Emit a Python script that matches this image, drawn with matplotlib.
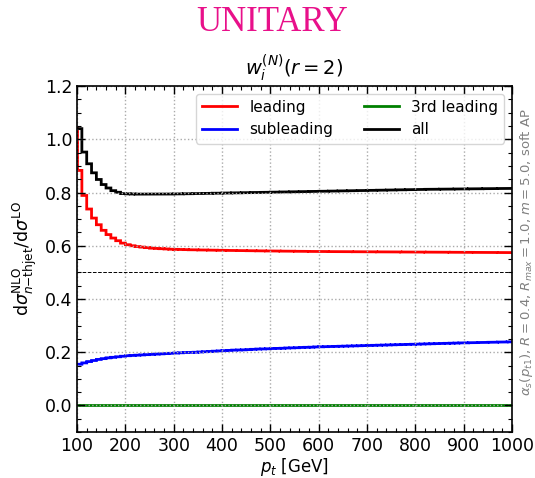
import numpy as np
import matplotlib
matplotlib.use("Agg")
import matplotlib.pyplot as plt
from matplotlib.ticker import MultipleLocator

# bin edges (GeV): a narrow first bin, then 10 GeV bins
edges = [100, 101] + list(range(110, 1001, 10))

leading = [1.040, 0.883, 0.789, 0.738, 0.704, 0.679, 0.658, 0.642, 0.629, 0.619, 0.610,
           0.604, 0.600, 0.597, 0.595, 0.593, 0.591, 0.590, 0.589, 0.588, 0.587,
           0.5865, 0.586, 0.5855, 0.585, 0.5847, 0.5843, 0.584, 0.5837, 0.5833, 0.583,
           0.5828, 0.5825, 0.5822, 0.582, 0.5817, 0.5815, 0.5812, 0.581, 0.5807, 0.5805,
           0.5803, 0.5801, 0.5799, 0.5797, 0.5795, 0.5793, 0.5791, 0.5789, 0.5787, 0.5786,
           0.5784, 0.5783, 0.5781, 0.578, 0.5779, 0.5778, 0.5777, 0.5776, 0.5775, 0.5774,
           0.5773, 0.5772, 0.5771, 0.577, 0.5769, 0.5768, 0.5767, 0.5766, 0.5765, 0.5764,
           0.5763, 0.5762, 0.5761, 0.576, 0.5759, 0.5758, 0.5757, 0.5756, 0.5755, 0.5754,
           0.5753, 0.5752, 0.5751, 0.575, 0.5749, 0.5748, 0.5747, 0.5746, 0.5745, 0.5744]

subleading = [0.155, 0.155, 0.160, 0.165, 0.169, 0.173, 0.176, 0.179, 0.181, 0.183, 0.185,
              0.187, 0.188, 0.189, 0.190, 0.191, 0.192, 0.193, 0.194, 0.195, 0.196,
              0.197, 0.198, 0.199, 0.1995, 0.200, 0.201, 0.202, 0.203, 0.204, 0.205,
              0.206, 0.207, 0.208, 0.2085, 0.209, 0.210, 0.211, 0.212, 0.2125, 0.213,
              0.214, 0.2145, 0.215, 0.216, 0.2165, 0.217, 0.218, 0.2185, 0.219, 0.220,
              0.2205, 0.221, 0.2215, 0.222, 0.2225, 0.223, 0.2235, 0.224, 0.2245, 0.225,
              0.2255, 0.226, 0.2265, 0.227, 0.2275, 0.228, 0.2285, 0.229, 0.2295, 0.230,
              0.2305, 0.231, 0.2315, 0.232, 0.2325, 0.233, 0.2335, 0.234, 0.2345, 0.235,
              0.2354, 0.2358, 0.2362, 0.2366, 0.237, 0.2374, 0.2378, 0.2382, 0.2386, 0.239]

third = [0.0] * 91

all_ = [1.040, 1.040, 0.952, 0.908, 0.874, 0.849, 0.830, 0.817, 0.807, 0.801, 0.796,
        0.795, 0.7945, 0.794, 0.794, 0.794, 0.794, 0.794, 0.794, 0.7942, 0.7944,
        0.7947, 0.795, 0.7953, 0.7956, 0.796, 0.7963, 0.7966, 0.797, 0.7973, 0.7976,
        0.798, 0.7983, 0.7986, 0.799, 0.7993, 0.7996, 0.800, 0.8003, 0.8006, 0.801,
        0.8013, 0.8016, 0.802, 0.8023, 0.8026, 0.803, 0.8033, 0.8036, 0.804, 0.8043,
        0.8046, 0.805, 0.8053, 0.8056, 0.806, 0.8063, 0.8066, 0.807, 0.8073, 0.8076,
        0.808, 0.8083, 0.8086, 0.809, 0.8093, 0.8096, 0.810, 0.8103, 0.8106, 0.811,
        0.8113, 0.8116, 0.812, 0.8122, 0.8124, 0.8126, 0.8128, 0.813, 0.8132, 0.8134,
        0.8136, 0.8138, 0.814, 0.8142, 0.8144, 0.8146, 0.8148, 0.815, 0.8152, 0.8154]

x_ticks = list(range(100, 1001, 100))
y_ticks = [0.0, 0.2, 0.4, 0.6, 0.8, 1.0, 1.2]

fig = plt.figure(figsize=(5.35, 4.78), dpi=100)
ax = fig.add_axes([0.144, 0.096, 0.813, 0.724])

ax.stairs(leading, edges, color='red', lw=2, label='leading', baseline=None, snap=False)
ax.stairs(subleading, edges, color='blue', lw=2, label='subleading', baseline=None, snap=False)
ax.stairs(third, edges, color='green', lw=2, label='3rd leading', baseline=None, snap=False)
ax.stairs(all_, edges, color='black', lw=2, label='all', baseline=None, snap=False)
ax.axhline(0.5, color='black', lw=0.7, ls='--')

ax.set_xlim(100, 1000)
ax.set_ylim(-0.1, 1.2)
ax.set_xticks(x_ticks)
ax.set_yticks(y_ticks)
ax.xaxis.set_minor_locator(MultipleLocator(20))
ax.yaxis.set_minor_locator(MultipleLocator(0.05))
ax.tick_params(which='both', direction='in', top=True, right=True, labelsize=12.5)
ax.tick_params(which='major', length=6, width=1)
ax.tick_params(which='minor', length=3, width=0.8)
ax.grid(True, which='major', color='#aaaaaa', ls=':', lw=1)
for s in ax.spines.values():
    s.set_linewidth(1.2)

ax.set_xlabel(r'$p_t$ [GeV]', fontsize=12, labelpad=1)
ax.set_ylabel(r'$\mathrm{d}\sigma^{\rm NLO}_{n\mathrm{-thjet}}/\mathrm{d}\sigma^{\rm LO}$',
              fontsize=12.5, labelpad=4)
ax.set_title(r'$w_i^{(N)}(r=2)$', fontsize=14, pad=8)

ax.legend(loc='upper right', ncol=2, fontsize=11, frameon=True, framealpha=0.8,
          edgecolor='#cccccc', handlelength=2.3, columnspacing=2.0,
          borderaxespad=0.5)

fig.text(0.984, 0.473,
         r'$\alpha_s(p_{t1})$, $R=0.4$, $R_{max}=1.0$, $m=5.0$, soft AP',
         rotation=90, color='gray', fontsize=9.5, ha='center', va='center')

fig.text(0.508, 0.953, 'UNITARY', color='#e8108a', fontsize=25,
         family='Liberation Serif', ha='center', va='center')

fig.savefig('out.png', dpi=100)
